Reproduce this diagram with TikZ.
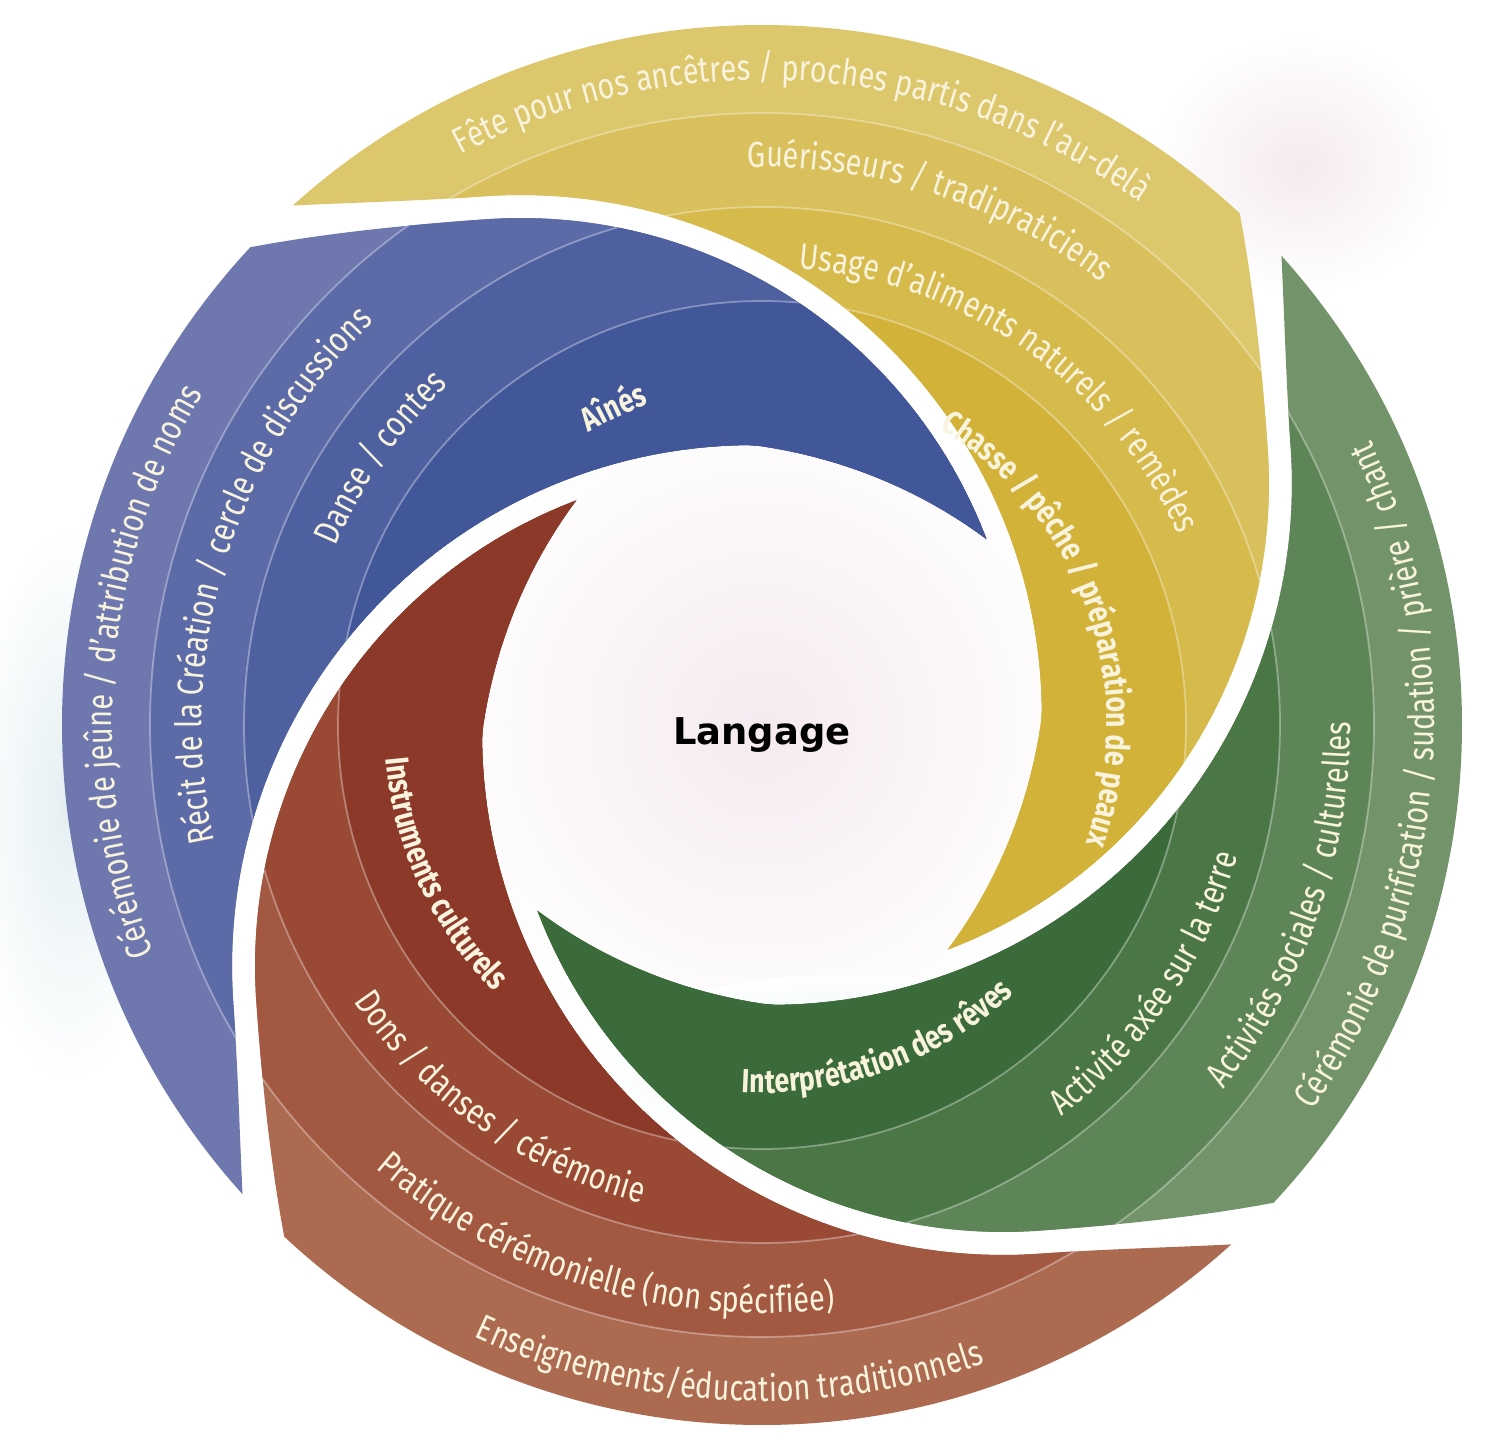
\documentclass[tikz,border=0pt]{standalone}
\usepackage{fontspec}
\setmainfont{Fira Sans}[FakeStretch=0.8]
\newfontfamily\langfont{DejaVu Sans}
\usetikzlibrary{decorations.text}
\definecolor{yel1}{HTML}{D3B23A}
\definecolor{yel2}{HTML}{D6BA4C}
\definecolor{yel3}{HTML}{D9C05C}
\definecolor{yel4}{HTML}{DCC76C}
\definecolor{grn1}{HTML}{3C6B3B}
\definecolor{grn2}{HTML}{4B7746}
\definecolor{grn3}{HTML}{5E8557}
\definecolor{grn4}{HTML}{73936A}
\definecolor{brn1}{HTML}{8C392A}
\definecolor{brn2}{HTML}{994934}
\definecolor{brn3}{HTML}{A35841}
\definecolor{brn4}{HTML}{AC6A51}
\definecolor{blu1}{HTML}{42569A}
\definecolor{blu2}{HTML}{4E609F}
\definecolor{blu3}{HTML}{5C6BA7}
\definecolor{blu4}{HTML}{6E78AF}
\definecolor{labtxt}{HTML}{F8F3DC}
\definecolor{washP}{HTML}{F5EAEF}
\definecolor{washB}{HTML}{E4EFF2}
\newcommand\labfont{\fontsize{10.3}{11}\selectfont}
\newcommand\labfontb{\fontsize{9.5}{10}\selectfont\bfseries}

\begin{document}
\begin{tikzpicture}[x=1cm,y=1cm,
  declare function={rin(\t)=5.21+(\t<0)*0.012*\t+(\t>94)*0.00094*(\t-94)*(\t-94);
                    rside(\t)=rin(\t)-0.23-(\t>94)*0.0003*(\t-94)*(\t-94);},
  bandsep/.style={draw=white, draw opacity=0.35, line width=0.5pt},
  arclabel/.style={decorate, decoration={text along path, text align=center,
                   text color=labtxt, text={|\labfont|#1}}},
  arclabelb/.style={decorate, decoration={text along path, text align=center,
                   text color=labtxt, text={|\labfontb|#1}}},
  ]
\useasboundingbox (0,0) rectangle (14.91,14.45);
\coordinate (O) at (7.62,7.20);
% ---- faint washes behind
\shade[inner color=washP, outer color=white] (O) circle (3.4);
\shade[inner color=washP, outer color=white] (13.0,12.8) ellipse (1.5 and 1.3);
\shade[inner color=washB, outer color=white] (0.7,6.4) ellipse (1.0 and 2.8);
\shade[inner color=washB, outer color=white] (8.4,3.8) ellipse (2.4 and 0.9);
% ---- the four arms, one turned a quarter further each time
\foreach \k/\ci/\cii/\ciii/\civ in {0/yel1/yel2/yel3/yel4, 1/grn1/grn2/grn3/grn4,
                                    2/brn1/brn2/brn3/brn4, 3/blu1/blu2/blu3/blu4}{
  \begin{scope}[shift={(O)}, rotate=-90*\k]
    \clip[shift={(-2.41,0.09)}] plot[domain=-45:130, samples=120, variable=\t] (\t:{rin(\t)})
      -- (130:12) arc[start angle=130, end angle=-45, radius=12] -- cycle;
    \clip[rotate=-90, shift={(-2.41,0.09)}] plot[domain=-45:130, samples=120, variable=\t] (\t:{rside(\t)})
      -- (130:12) arc[start angle=130, end angle=315, radius=12] -- cycle;
    \fill[\civ] (0,0) circle (7.0);
    \fill[\ciii] (0,0) circle (6.12);
    \fill[\cii] (0,0) circle (5.18);
    \fill[\ci] (0,0) circle (4.24);
    \draw[bandsep] (0,0) circle (6.12) (0,0) circle (5.18) (0,0) circle (4.24);
  \end{scope}
}
% ---- labels along the bands
\begin{scope}[shift={(O)}]
  % yellow
  \path[arclabel={Fête pour nos ancêtres / proches partis dans l'au-delà}] (146:6.45) arc[start angle=146, end angle=26, radius=6.45];
  \path[arclabel={Guérisseurs / tradipraticiens}] (132:5.58) arc[start angle=132, end angle=12, radius=5.58];
  \path[arclabel={Usage d'aliments naturels / remèdes}] (115:4.58) arc[start angle=115, end angle=-5, radius=4.58];
  \path[arclabelb={Chasse / pêche / préparation de peaux}] (79.5:3.45) arc[start angle=79.5, end angle=-40.5, radius=3.45];
  % green
  \path[arclabel={Cérémonie de purification / sudation / prière / chant}] (-65:6.72) arc[start angle=-65, end angle=55, radius=6.72];
  \path[arclabel={Activités sociales / culturelles}] (-79:5.88) arc[start angle=-79, end angle=41, radius=5.88];
  \path[arclabel={Activité axée sur la terre}] (-94:4.93) arc[start angle=-94, end angle=26, radius=4.93];
  \path[arclabelb={Interprétation des rêves}] (-130:3.68) arc[start angle=-130, end angle=-10, radius=3.68];
  % brown
  \path[arclabel={Enseignements/éducation traditionnels}] (-153:6.76) arc[start angle=-153, end angle=-33, radius=6.76];
  \path[arclabel={Pratique cérémonielle (non spécifiée)}] (-167:5.88) arc[start angle=-167, end angle=-47, radius=5.88];
  \path[arclabel={Dons / danses / cérémonie}] (-185:4.93) arc[start angle=-185, end angle=-65, radius=4.93];
  \path[arclabelb={Instruments culturels}] (-215:3.78) arc[start angle=-215, end angle=-95, radius=3.78];
  % blue
  \path[arclabel={Cérémonie de jeûne / d'attribution de noms}] (235:6.5) arc[start angle=235, end angle=115, radius=6.5];
  \path[arclabel={Récit de la Création / cercle de discussions}] (223:5.6) arc[start angle=223, end angle=103, radius=5.6];
  \path[arclabel={Danse / contes}] (205:4.62) arc[start angle=205, end angle=85, radius=4.62];
  \path[arclabelb={Aînés}] (175:3.4) arc[start angle=175, end angle=55, radius=3.4];
\end{scope}
% ---- the centre
\node[font=\langfont\bfseries\fontsize{10.5}{12}\selectfont] (centre) at ([yshift=-1mm]O) {Langage};
\end{tikzpicture}
\end{document}
